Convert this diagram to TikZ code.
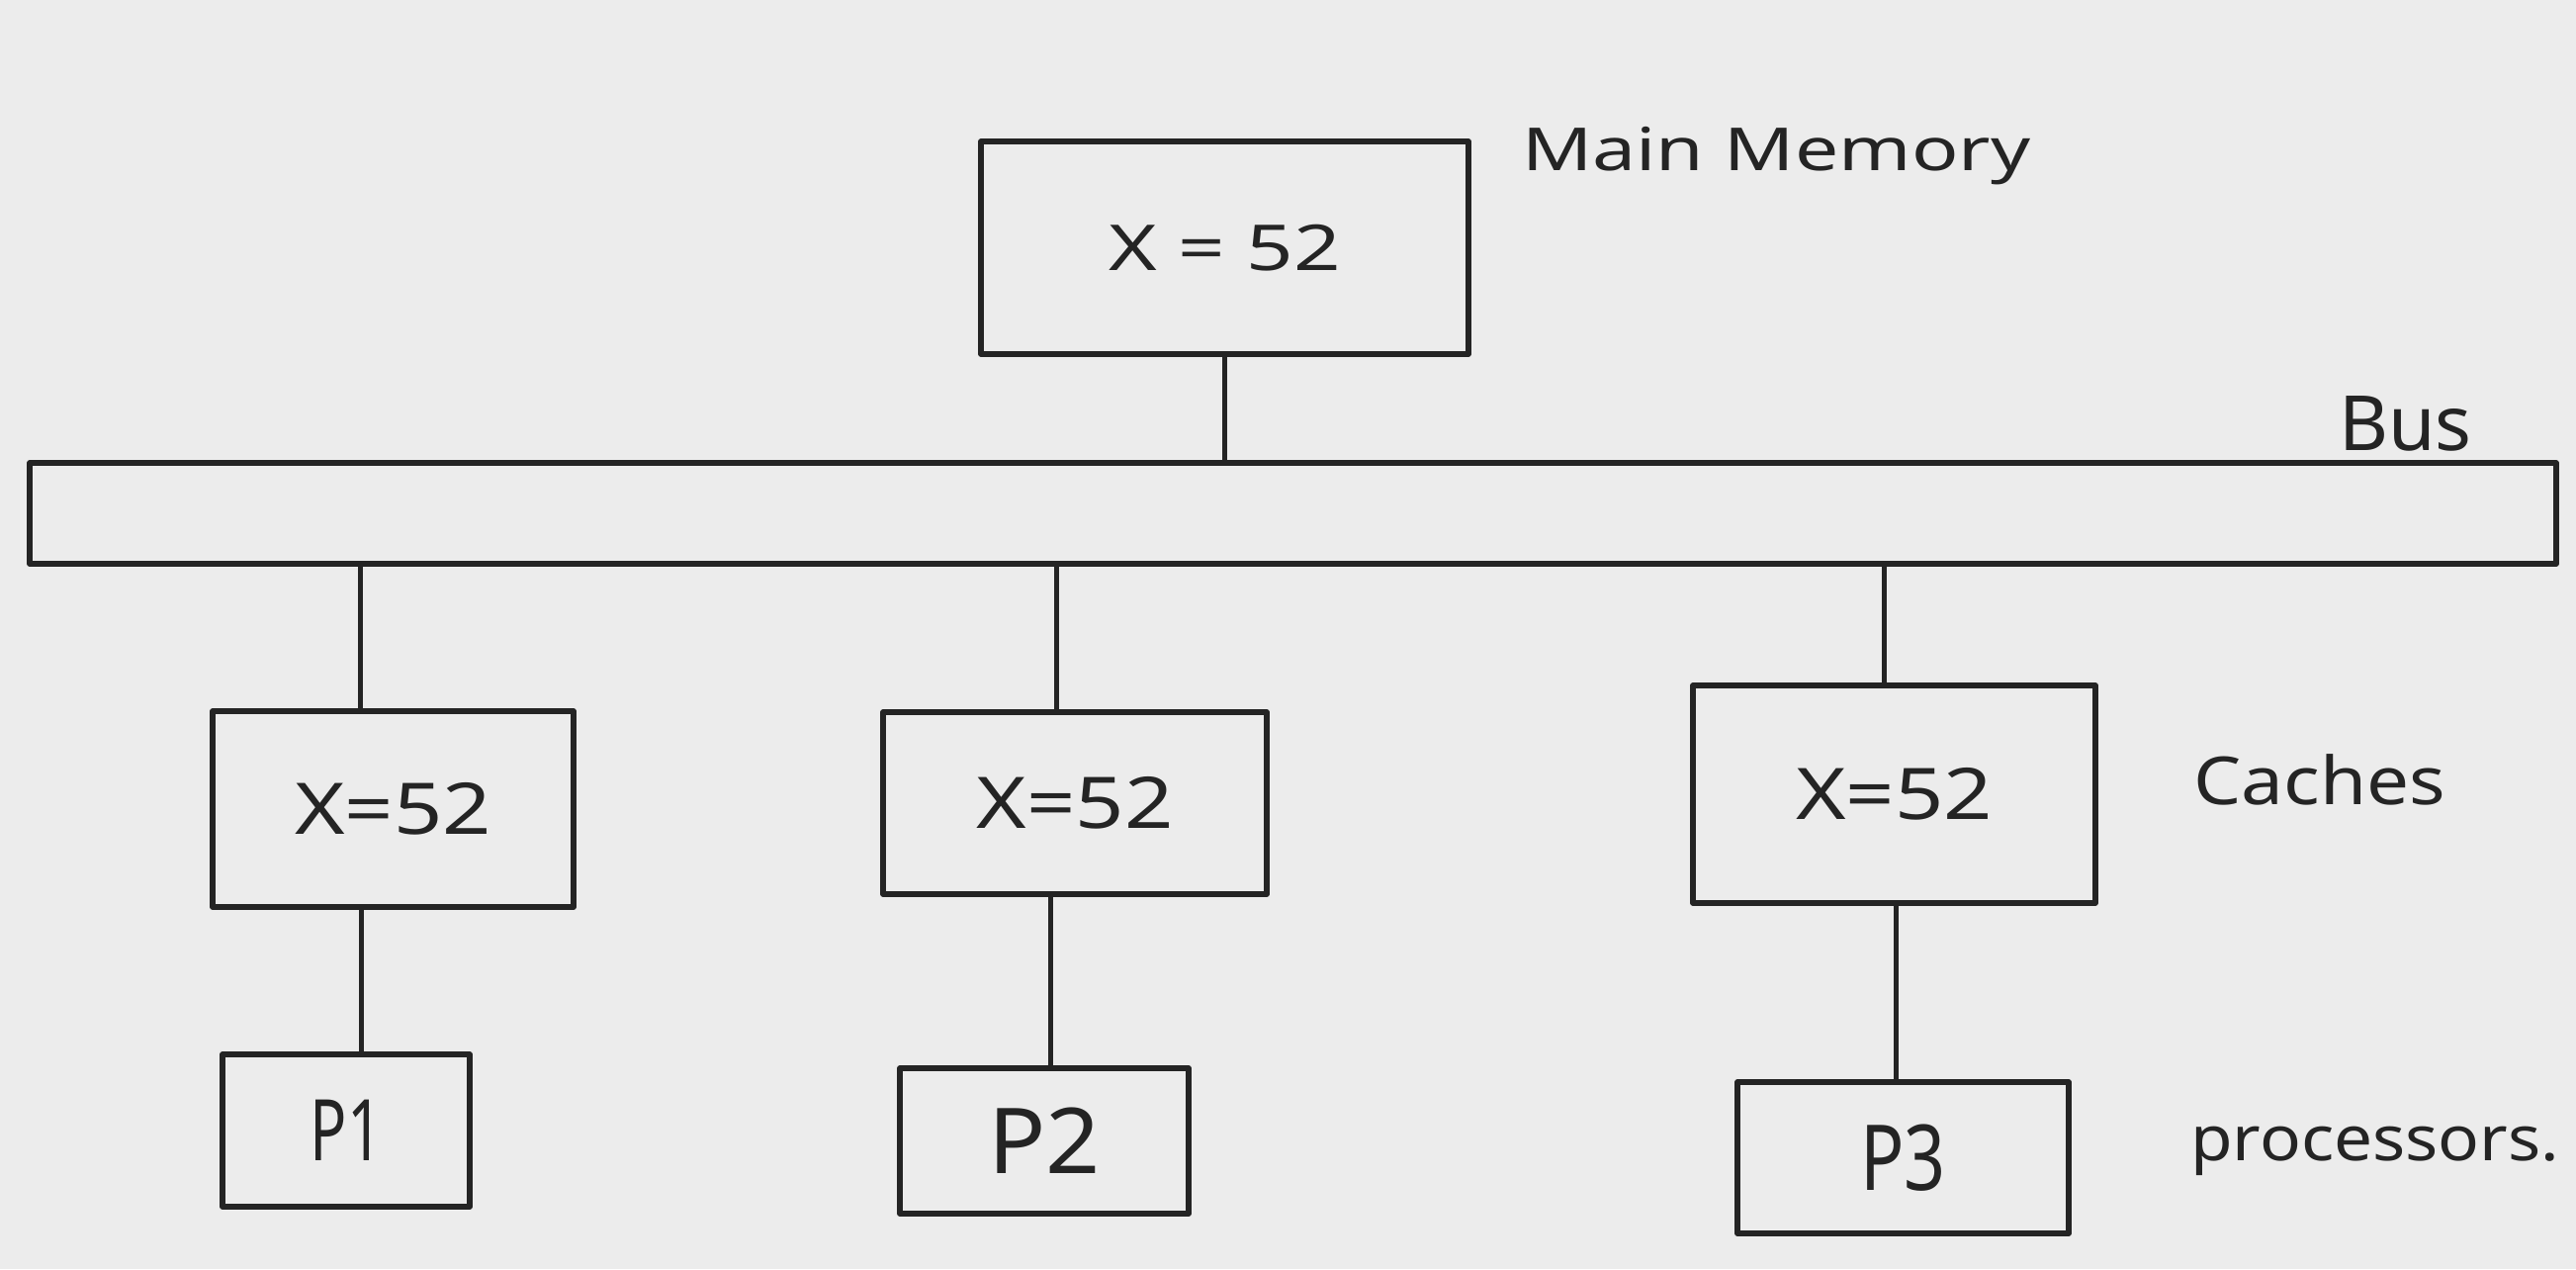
\documentclass[tikz,border=0pt]{standalone}
\usepackage{fontspec}
\usepackage{graphicx}
\setmainfont{Noto Sans}
\definecolor{paper}{RGB}{236,236,236}
\definecolor{ink}{RGB}{36,36,36}

\begin{document}
\begin{tikzpicture}[x=1pt,y=-1pt,
  box/.style={draw=ink, line width=5.5pt, rectangle, inner sep=0pt, text=ink, line join=round},
  wire/.style={draw=ink, line width=5pt},
  tag/.style={text=ink, inner sep=0pt, anchor=base west}]
% sheet
\fill[paper] (0,0) rectangle (2605,1283);
\useasboundingbox (0,0) rectangle (2605,1283);

% main memory and the shared bus
\node[box, minimum width=493pt, minimum height=215pt] (mem) at (1238.5,250.5)
  {\fontsize{64}{70}\selectfont\scalebox{1.3}[1]{X = 52}};
\node[box, minimum width=2555pt, minimum height=102pt] (bus) at (1307.5,519) {};

% caches
\node[box, minimum width=365pt, minimum height=198pt] (c1) at (397.5,818)
  {\fontsize{72}{76}\selectfont\scalebox{1.2}[1]{X=52}};
\node[box, minimum width=388pt, minimum height=184pt] (c2) at (1087,812)
  {\fontsize{72}{76}\selectfont\scalebox{1.2}[1]{X=52}};
\node[box, minimum width=407pt, minimum height=220pt] (c3) at (1915.5,803)
  {\fontsize{72}{76}\selectfont\scalebox{1.2}[1]{X=52}};

% processors
\node[box, minimum width=250pt, minimum height=154pt] (p1) at (350,1143)
  {\fontsize{86}{90}\selectfont\scalebox{0.72}[1]{P1}};
\node[box, minimum width=292pt, minimum height=147pt] (p2) at (1056,1153.5)
  {\fontsize{92}{96}\selectfont\scalebox{1.05}[1]{P2}};
\node[box, minimum width=335pt, minimum height=153pt] (p3) at (1924.5,1170.5)
  {\fontsize{92}{96}\selectfont\scalebox{0.8}[1]{P3}};

% links
\draw[wire] (mem.south) -- (mem.south |- bus.north);
\draw[wire] ([xshift=-33.5pt]c1.north) -- ([xshift=-33.5pt]c1.north |- bus.south);
\draw[wire] ([xshift=-19pt]c2.north) -- ([xshift=-19pt]c2.north |- bus.south);
\draw[wire] ([xshift=-10.5pt]c3.north) -- ([xshift=-10.5pt]c3.north |- bus.south);
\draw[wire] ([xshift=15pt]p1.north) -- ([xshift=15pt]p1.north |- c1.south);
\draw[wire] ([xshift=6pt]p2.north) -- ([xshift=6pt]p2.north |- c2.south);
\draw[wire] ([xshift=-7.5pt]p3.north) -- ([xshift=-7.5pt]p3.north |- c3.south);

% side labels
\node[tag] (mmtag) at (1539,172) {\fontsize{60}{66}\selectfont\scalebox{1.31}[1]{Main Memory}};
\node[tag] (bustag) at (2365,455) {\fontsize{77}{80}\selectfont Bus};
\node[tag] (cachetag) at (2218,813) {\fontsize{67}{70}\selectfont\scalebox{1.14}[1]{Caches}};
\node[tag] (proctag) at (2215,1173) {\fontsize{63}{66}\selectfont\scalebox{1.1}[1]{processors.}};
\end{tikzpicture}
\end{document}
